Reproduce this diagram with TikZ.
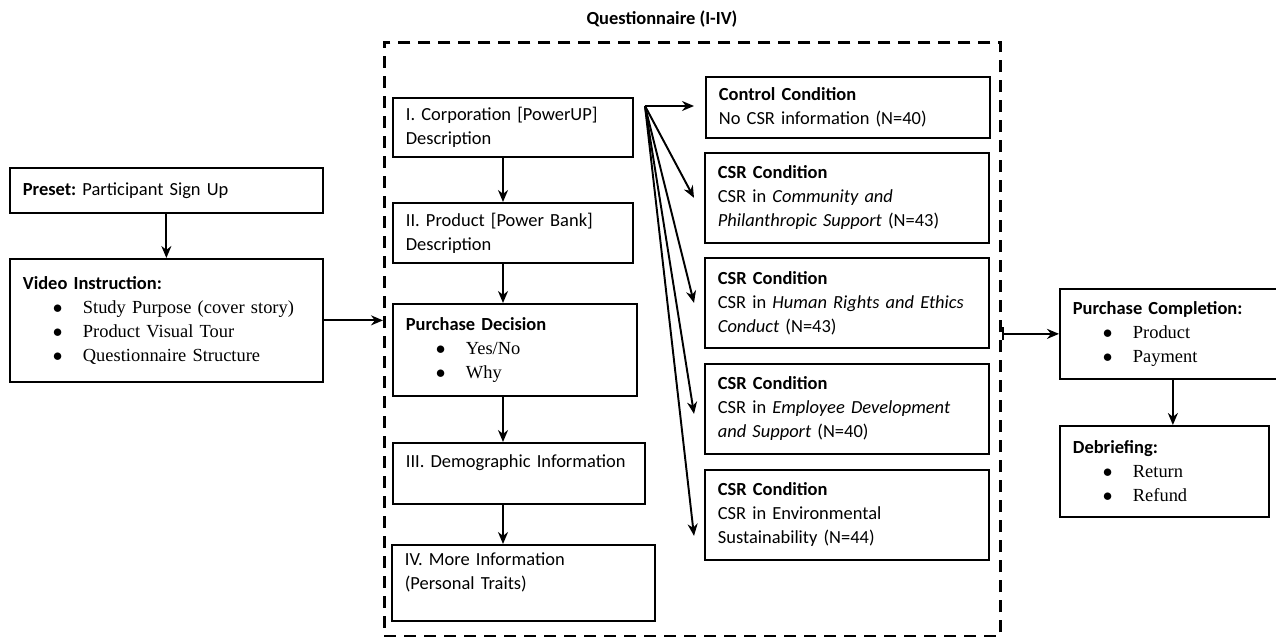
\documentclass[tikz,border=0pt]{standalone}
\usepackage{fontspec}
\setmainfont{Carlito}
\newfontfamily\serifitem{Liberation Serif}
\usetikzlibrary{arrows.meta,calc}
\newcommand{\bitem}[1]{\hspace*{0.6cm}\makebox[0.6cm][l]{$\bullet$}{\serifitem #1}}
\tikzset{
  qbox/.style     ={rectangle, draw=black, line width=1pt, fill=white, text=black,
                    align=left, anchor=north west, inner xsep=0.26cm, inner ysep=2pt,
                    font=\fontsize{10.5}{13.7}\selectfont\frenchspacing},
  dashframe/.style={rectangle, draw=black, line width=1.5pt, dash pattern=on 0.24cm off 0.16cm,
                    anchor=north west, inner sep=0pt},
  arr/.style      ={-{Stealth[length=2.4mm,width=2mm]}, draw=black, line width=1.1pt},
  arrbar/.style   ={{Bar[width=2.6mm]}-{Stealth[length=2.4mm,width=2mm]}, draw=black, line width=1.1pt},
  ttl/.style      ={font=\fontsize{10.5}{12}\selectfont\bfseries, anchor=base},
}
\begin{document}
\begin{tikzpicture}
  \useasboundingbox (0,0) rectangle (25.52,-12.74);

  % start
  \node[qbox,text width=5.74cm,minimum height=0.9cm] (pre) at (0.18,-3.34)
    {\textbf{Preset:} Participant Sign Up};
  \node[qbox,text width=5.74cm,minimum height=2.46cm] (vid) at (0.18,-5.16)
    {\textbf{Video Instruction:}\\
     \bitem{Study Purpose (cover story)}\\
     \bitem{Product Visual Tour}\\
     \bitem{Questionnaire Structure}};
  \draw[arr] (pre.south) -- (vid.north);

  % questionnaire
  \node[dashframe,minimum width=12.32cm,minimum height=11.88cm] (qframe) at (7.66,-0.82) {};
  \node[ttl] (qtitle) at (13.24,-0.5) {Questionnaire (I-IV)};
  \draw[arr] (vid.east) -- (vid.east -| qframe.west);

  \coordinate (spine) at (10.06,0);
  \node[qbox,text width=4.28cm,minimum height=1.18cm] (q1) at (7.84,-1.94)
    {I. Corporation [PowerUP]\\Description};
  \node[qbox,text width=4.28cm,minimum height=1.2cm] (q2) at (7.84,-4.04)
    {II. Product [Power Bank]\\Description};
  \node[qbox,text width=4.36cm,minimum height=1.84cm] (pd) at (7.84,-6.06)
    {\textbf{Purchase Decision}\\
     \bitem{Yes/No}\\
     \bitem{Why}};
  \node[qbox,text width=4.52cm,minimum height=1.22cm] (q3) at (7.84,-8.84)
    {III. Demographic Information\\ \mbox{}};
  \node[qbox,text width=4.74cm,minimum height=1.52cm] (q4) at (7.82,-10.88)
    {IV. More Information\\(Personal Traits)\\ \mbox{}};
  \draw[arr] (q1.south -| spine) -- (q2.north -| spine);
  \draw[arr] (q2.south -| spine) -- (pd.north -| spine);
  \draw[arr] (pd.south -| spine) -- (q3.north -| spine);
  \draw[arr] (q3.south -| spine) -- (q4.north -| spine);

  % conditions
  \node[qbox,text width=5.16cm,minimum height=1.22cm] (c0) at (14.1,-1.52)
    {\textbf{Control Condition}\\No CSR information (N=40)};
  \node[qbox,text width=5.16cm,minimum height=1.8cm] (c1) at (14.08,-3.04)
    {\textbf{CSR Condition}\\CSR in \textit{Community and}\\\textit{Philanthropic Support} (N=43)};
  \node[qbox,text width=5.16cm,minimum height=1.8cm] (c2) at (14.08,-5.14)
    {\textbf{CSR Condition}\\CSR in \textit{Human Rights and Ethics}\\\textit{Conduct} (N=43)};
  \node[qbox,text width=5.16cm,minimum height=1.8cm] (c3) at (14.08,-7.26)
    {\textbf{CSR Condition}\\CSR in \textit{Employee Development}\\\textit{and Support} (N=40)};
  \node[qbox,text width=5.16cm,minimum height=1.8cm] (c4) at (14.08,-9.38)
    {\textbf{CSR Condition}\\CSR in Environmental\\Sustainability (N=44)};

  \coordinate (fan) at (12.9,-2.12);
  \draw[arr,shorten >=0.22cm] (fan) -- (fan -| c0.west);
  \foreach \c/\dy in {c1/0,c2/0,c3/-0.1,c4/-0.42}{
    \draw[arr] (fan) -- ([xshift=-0.2cm,yshift=\dy cm]\c.west);
  }

  % end
  \node[qbox,text width=4.0cm,minimum height=1.8cm] (pc) at (21.18,-5.76)
    {\textbf{Purchase Completion:}\\
     \bitem{Product}\\
     \bitem{Payment}};
  \node[qbox,text width=3.66cm,minimum height=1.82cm] (deb) at (21.18,-8.5)
    {\textbf{Debriefing:}\\
     \bitem{Return}\\
     \bitem{Refund}};
  \draw[arrbar] (qframe.east |- pc.west) -- (pc.west);
  \draw[arr] (pc.south) -- (pc.south |- deb.north);
\end{tikzpicture}
\end{document}
